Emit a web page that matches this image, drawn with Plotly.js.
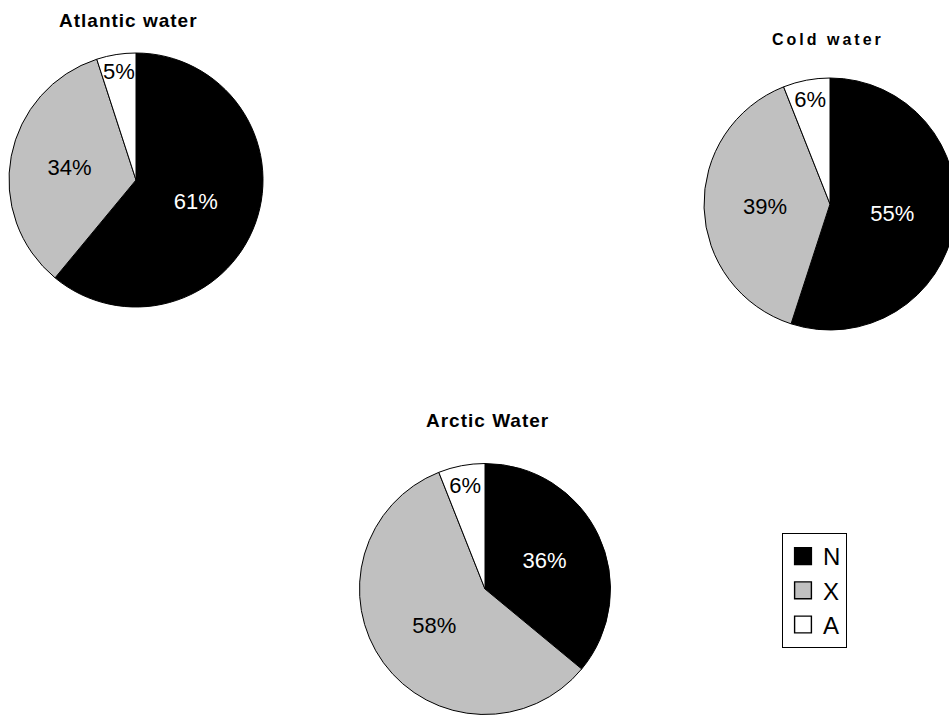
<!DOCTYPE html>
<html>
<head>
<meta charset="utf-8">
<script src="https://cdn.plot.ly/plotly-3.0.1.min.js"></script>
<style>
  html, body { margin: 0; padding: 0; overflow: hidden; background: #fff; }
  #chart { width: 1000px; height: 715px; }
</style>
</head>
<body>
<div id="chart"></div>
<script>
// ---- data ----
var categories = ['N', 'X', 'A'];
var sliceColors = ['#000000', '#c0c0c0', '#ffffff'];
var labelColors = ['#ffffff', '#000000', '#000000'];
var pieTitles = ['Atlantic water', 'Cold water', 'Arctic Water'];
var atlanticValues = [61, 34, 5];
var coldValues = [55, 39, 6];
var arcticValues = [36, 58, 6];

// ---- layout geometry (canvas is 1000 wide so the right pie is clipped by the 949 window) ----
var W = 1000, H = 715;
function dom(cx, cy, r) {
  return { x: [(cx - r) / W, (cx + r) / W], y: [1 - (cy + r) / H, 1 - (cy - r) / H] };
}
var domains = [dom(136, 180, 127), dom(830, 204, 126), dom(485, 589, 125.5)];
var valueSets = [atlanticValues, coldValues, arcticValues];

var traces = valueSets.map(function (vals, i) {
  return {
    type: 'pie',
    labels: categories,
    values: vals,
    domain: domains[i],
    sort: false,
    direction: 'clockwise',
    rotation: 0,
    marker: { colors: sliceColors, line: { color: '#000000', width: 1 } },
    texttemplate: '%{value}%',
    textposition: 'inside',
    insidetextorientation: 'horizontal',
    textfont: { family: 'Liberation Sans, Arial, sans-serif', size: 22, color: labelColors },
    hoverinfo: 'none',
    showlegend: i === 0,
    name: pieTitles[i]
  };
});

var titlePos = [[128, 20, 19], [828, 40, 16], [488, 421, 19]];
var annotations = pieTitles.map(function (t, i) {
  return {
    text: t,
    x: titlePos[i][0] / W, y: 1 - titlePos[i][1] / H,
    xref: 'paper', yref: 'paper',
    xanchor: 'center', yanchor: 'middle',
    showarrow: false,
    font: { family: 'Liberation Sans, Arial, sans-serif', size: titlePos[i][2], weight: 'bold', color: '#000' }
  };
});

var layout = {
  width: W, height: H,
  margin: { l: 0, r: 0, t: 0, b: 0, pad: 0 },
  paper_bgcolor: '#ffffff',
  plot_bgcolor: '#ffffff',
  showlegend: true,
  legend: {
    x: 782 / W, y: 1 - 533 / H, xanchor: 'left', yanchor: 'top',
    bordercolor: '#000000', borderwidth: 1, bgcolor: '#ffffff',
    font: { family: 'Liberation Sans, Arial, sans-serif', size: 24, color: '#000' },
    traceorder: 'normal'
  },
  uniformtext: { mode: 'show', minsize: 22 },
  annotations: annotations
};

Plotly.newPlot('chart', traces, layout, { staticPlot: true, displayModeBar: false }).then(function () {
  var spacing = ['1px', '3px', '1px'];
  document.querySelectorAll('.annotation-text').forEach(function (el, i) {
    el.style.letterSpacing = spacing[i] || '0px';
  });
  document.querySelectorAll('.legend .legendpoints path').forEach(function (p) {
    var t = p.getAttribute('transform') || '';
    p.setAttribute('transform', t + ' scale(1.4)');
  });
});
</script>
</body>
</html>
